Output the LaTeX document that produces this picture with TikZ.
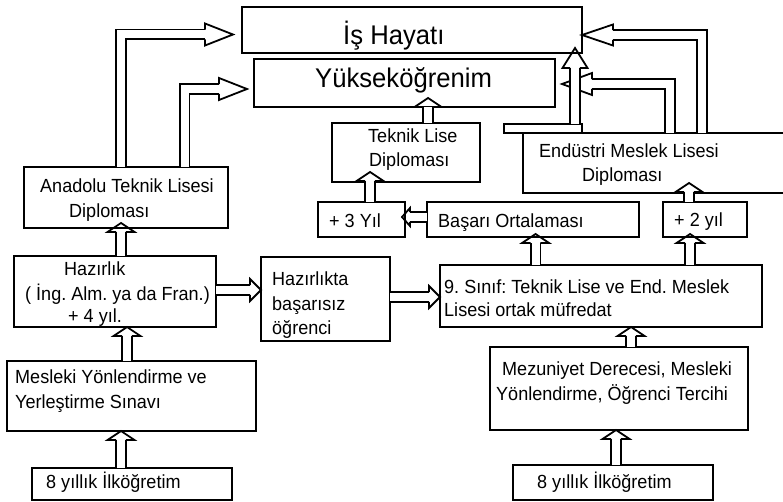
\documentclass[tikz,border=0pt]{standalone}
\usepackage{fontspec}
\setmainfont{Liberation Sans}[FakeStretch=0.95]
\usetikzlibrary{decorations.markings}
\frenchspacing

\tikzset{
  box/.style={draw, line width=2.4pt, inner sep=0pt, outer sep=0pt},
  txt/.style={anchor=base west, inner sep=0pt, font=\fontsize{19}{22}\selectfont},
  bigtxt/.style={anchor=base west, inner sep=0pt, font=\fontsize{27}{31}\selectfont},
  shaft/.style={double=white, double distance=8pt, line width=1.8pt},
  bhead/.style 2 args={shorten >=#1pt, postaction={decorate, decoration={markings,
      mark=at position 1 with {\draw[line width=1.8pt, shorten >=0pt]
        (-#1pt,4.9pt) -- (-#1pt,#2pt) -- (0pt,0pt) -- (-#1pt,-#2pt) -- (-#1pt,-4.9pt);}}}},
}

\begin{document}
\begin{tikzpicture}[x=1pt, y=-1pt]
  \useasboundingbox (0,0) rectangle (783,502);

  % Boxes
  \node[box, minimum width=340, minimum height=46] (ishayat) at (412,30) {};
  \node[box, minimum width=301, minimum height=48] (yuksek) at (404.5,83) {};
  \node[box, minimum width=148, minimum height=59] (teknik) at (406,152.5) {};
  \node[box, minimum width=204, minimum height=61] (anadolu) at (126,197.5) {};
  \node[box, minimum width=78, minimum height=9] (tab) at (543,128.5) {};
  \node[box, minimum width=277, minimum height=60] (endustri) at (661.5,163) {};
  \node[box, minimum width=87, minimum height=35] (yil3) at (361.5,219.5) {};
  \node[box, minimum width=212, minimum height=35] (basari) at (533,219.5) {};
  \node[box, minimum width=84, minimum height=35] (yil2) at (705,219.5) {};
  \node[box, minimum width=202, minimum height=71] (hazirlik) at (115,291.5) {};
  \node[box, minimum width=129, minimum height=84] (basarisiz) at (325.5,299) {};
  \node[box, minimum width=322, minimum height=62] (sinif9) at (601,296) {};
  \node[box, minimum width=249, minimum height=70] (mesleki) at (131.5,396) {};
  \node[box, minimum width=258, minimum height=83] (mezuniyet) at (619,388.5) {};
  \node[box, minimum width=200, minimum height=32] (ilkL) at (132,484) {};
  \node[box, minimum width=200, minimum height=35] (ilkR) at (613,482.5) {};

  % Texts
  \node[bigtxt] (tIs) at (343,45) {İş Hayatı};
  \node[bigtxt] (tYuk) at (315,88) {Yükseköğrenim};
  \node[txt] (tTek1) at (368,143) {Teknik Lise};
  \node[txt] (tTek2) at (369,167) {Diploması};
  \node[txt] (tAna1) at (40,193) {Anadolu Teknik Lisesi};
  \node[txt] (tAna2) at (69,218) {Diploması};
  \node[txt] (tEnd1) at (539,158) {Endüstri Meslek Lisesi};
  \node[txt] (tEnd2) at (582,182) {Diploması};
  \node[txt] (tYil3) at (329,228) {+ 3 Yıl};
  \node[txt] (tBas) at (438,228) {Başarı Ortalaması};
  \node[txt] (tYil2) at (674,227) {+ 2 yıl};
  \node[txt] (tHaz1) at (64,276) {Hazırlık};
  \node[txt] (tHaz2) at (25,300) {( İng. Alm. ya da Fran.)};
  \node[txt] (tHaz3) at (68,322) {+ 4 yıl.};
  \node[txt] (tBsz1) at (272,285) {Hazırlıkta};
  \node[txt] (tBsz2) at (272,310) {başarısız};
  \node[txt] (tBsz3) at (272,334) {öğrenci};
  \node[txt] (tSin1) at (444,293) {9. Sınıf: Teknik Lise ve End. Meslek};
  \node[txt] (tSin2) at (444,316) {Lisesi ortak müfredat};
  \node[txt] (tMes1) at (15,383) {Mesleki Yönlendirme ve};
  \node[txt] (tMes2) at (15,408) {Yerleştirme Sınavı};
  \node[txt] (tMez1) at (502,375) {Mezuniyet Derecesi, Mesleki};
  \node[txt] (tMez2) at (496,400) {Yönlendirme, Öğrenci Tercihi};
  \node[txt] (tIlkL) at (46,488) {8 yıllık İlköğretim};
  \node[txt] (tIlkR) at (537,488) {8 yıllık İlköğretim};

  % Straight arrows
  \draw[shaft, bhead={9}{13.5}] ([xshift=-11]ilkL.north) -- ([xshift=-10.5]mesleki.south);
  \draw[shaft, bhead={9}{13.5}] ([xshift=-4.5]mesleki.north) -- ([xshift=12]hazirlik.south);
  \draw[shaft, bhead={9}{13.5}] ([xshift=6]hazirlik.north) -- ([xshift=-5,yshift=5]anadolu.south);
  \draw[shaft, bhead={9}{13.5}] ([xshift=8.5]yil3.north) -- ([xshift=-36,yshift=10]teknik.south);
  \draw[shaft, bhead={9}{13.5}] ([xshift=22]teknik.north) -- ([xshift=23.5,yshift=9]yuksek.south);
  \draw[shaft, bhead={9}{13.5}] ([xshift=-65.5]sinif9.north) -- ([xshift=2.5,yshift=3]basari.south);
  \draw[shaft, bhead={9}{13.5}] ([xshift=89]sinif9.north) -- ([xshift=-15,yshift=3]yil2.south);
  \draw[shaft, bhead={9}{13.5}] ([xshift=-16]yil2.north) -- ([xshift=27.5,yshift=10]endustri.south);
  \draw[shaft, bhead={9}{13.5}] ([xshift=12]mezuniyet.north) -- ([xshift=30]sinif9.south);
  \draw[shaft, bhead={9}{13.5}] ([xshift=3]ilkR.north) -- ([xshift=-3]mezuniyet.south);
  \draw[shaft, bhead={11}{11}] ([yshift=1.5]hazirlik.east) -- ([yshift=9]basarisiz.west);
  \draw[shaft, bhead={11}{11}] ([yshift=2]basarisiz.east) -- ([yshift=-1]sinif9.west);
  \draw[shaft, bhead={8}{9}] ([yshift=2.5]basari.west) -- ([xshift=-3,yshift=2.5]yil3.east);

  % Bent arrows
  \draw[shaft, bhead={28}{11}] ([xshift=-5]anadolu.north) |- ([xshift=-9,yshift=-4.5]ishayat.west);
  \draw[shaft, bhead={28}{11}] ([xshift=58.5]anadolu.north) |- ([xshift=-7,yshift=-6]yuksek.west);
  \draw[shaft, bhead={30}{11}] ([xshift=8.5]endustri.north) |- ([xshift=7,yshift=-1]yuksek.east);
  \draw[shaft, bhead={31}{10.5}] ([xshift=40.5]endustri.north) |- ([yshift=-5]ishayat.east);
  \draw[shaft, bhead={20}{12.5}] ([xshift=32]tab.north) -- ([xshift=-7,yshift=5]ishayat.south east);
\end{tikzpicture}
\end{document}
